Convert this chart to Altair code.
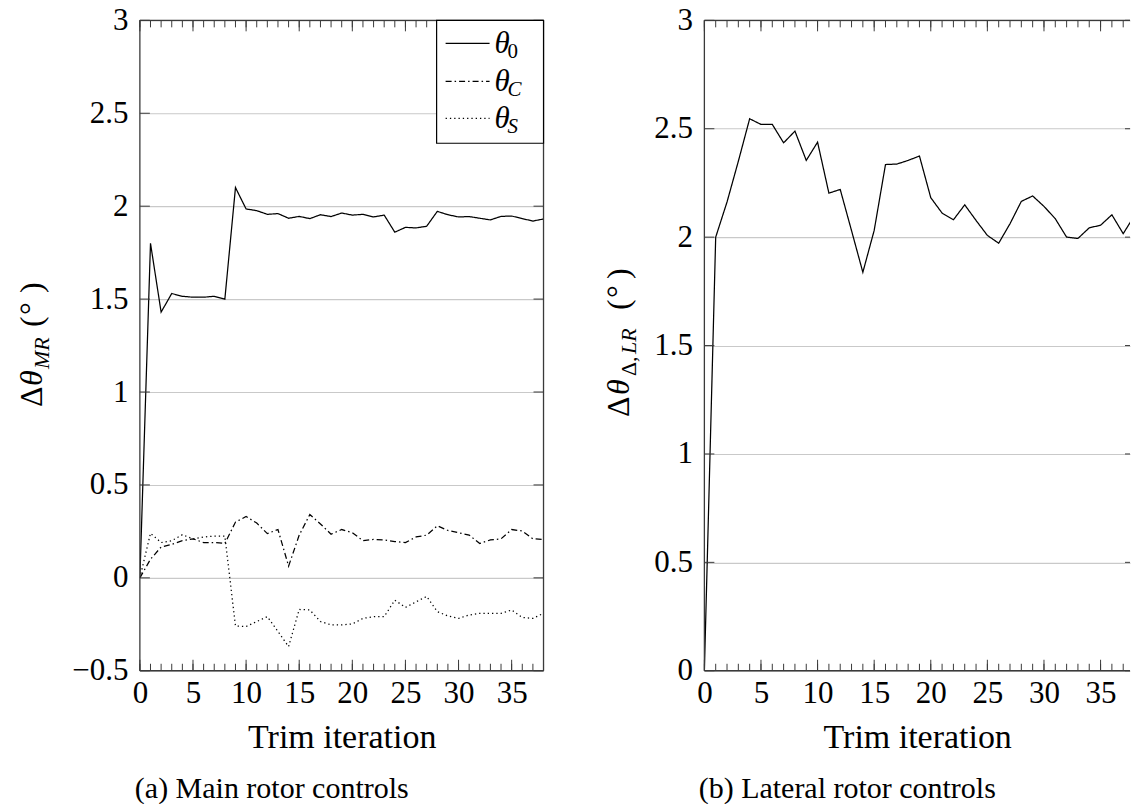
import altair as alt
import pandas as pd

# Trim iteration index
iterations = list(range(39))

# Main rotor control increments (deg)
theta_0 = [0.0, 1.80, 1.43, 1.53, 1.515, 1.51, 1.51, 1.515, 1.50, 2.10,
           1.985, 1.976, 1.956, 1.96, 1.935, 1.945, 1.933, 1.954, 1.944, 1.963,
           1.952, 1.956, 1.942, 1.952, 1.86, 1.886, 1.883, 1.892, 1.972, 1.954,
           1.942, 1.944, 1.935, 1.926, 1.945, 1.947, 1.933, 1.92, 1.931]
theta_c = [0.0, 0.10, 0.166, 0.18, 0.20, 0.21, 0.19, 0.19, 0.185, 0.30,
           0.33, 0.295, 0.238, 0.26, 0.063, 0.23, 0.341, 0.29, 0.235, 0.26,
           0.243, 0.20, 0.207, 0.204, 0.195, 0.19, 0.22, 0.23, 0.28, 0.255,
           0.243, 0.23, 0.185, 0.204, 0.21, 0.26, 0.252, 0.21, 0.207]
theta_s = [0.0, 0.24, 0.19, 0.20, 0.232, 0.21, 0.22, 0.225, 0.225, -0.259,
           -0.262, -0.235, -0.209, -0.289, -0.37, -0.17, -0.173, -0.235, -0.253, -0.253,
           -0.248, -0.218, -0.209, -0.209, -0.12, -0.159, -0.129, -0.10, -0.182, -0.205,
           -0.218, -0.20, -0.191, -0.191, -0.191, -0.173, -0.213, -0.218, -0.191]

# Lateral rotor differential collective increment (deg)
theta_lr = [0.0, 2.0, 2.162, 2.35, 2.546, 2.52, 2.52, 2.435, 2.489, 2.354,
            2.438, 2.203, 2.22, 2.03, 1.838, 2.031, 2.335, 2.337, 2.354, 2.374,
            2.182, 2.111, 2.08, 2.149, 2.077, 2.008, 1.972, 2.062, 2.165, 2.19,
            2.142, 2.085, 2.0, 1.994, 2.043, 2.055, 2.103, 2.016, 2.10]

x_labels = [0, 5, 10, 15, 20, 25, 30, 35]
y_labels_mr = [-0.5, 0, 0.5, 1, 1.5, 2, 2.5, 3]
y_labels_lr = [0, 0.5, 1, 1.5, 2, 2.5, 3]

FONT = "Liberation Serif"
INK = "#3a3a3a"
H = 651
W1, W2 = 404, 426
X1_MAX, X2_MAX = 38, 37.6


def x_axis():
    return alt.Axis(values=x_labels, title="Trim iteration", ticks=False, domain=False,
                    grid=False, labelFont=FONT, labelFontSize=31, labelColor="black",
                    labelPadding=8, labelFlush=False, titleFont=FONT, titleFontSize=34,
                    titleFontWeight="normal", titleColor="black", titlePadding=12)


def y_axis(vals):
    return alt.Axis(values=vals, format="~g", title=None, ticks=False, domain=False,
                    grid=True, gridColor="#c9c9c9", gridWidth=1.1,
                    labelFont=FONT, labelFontSize=31, labelColor="black",
                    labelPadding=12, labelFlush=False)


def xs(field, xmax):
    return alt.X(f"{field}:Q", scale=alt.Scale(domain=[0, xmax], nice=False, zero=False), axis=x_axis())


def ys(field, domain, vals):
    return alt.Y(f"{field}:Q", scale=alt.Scale(domain=domain, nice=False, zero=False), axis=y_axis(vals))


def one():
    return alt.Chart(pd.DataFrame({"k": [0]}))


def frame(width, sides):
    """Axis box drawn as rules (sides among l, r, t, b)."""
    spec = {
        "l": dict(x=alt.value(0), y=alt.value(0), y2=alt.value(H)),
        "r": dict(x=alt.value(width), y=alt.value(0), y2=alt.value(H)),
        "t": dict(x=alt.value(0), x2=alt.value(width), y=alt.value(0)),
        "b": dict(x=alt.value(0), x2=alt.value(width), y=alt.value(H)),
    }
    return [one().mark_rule(color=INK, strokeWidth=1.3).encode(**spec[s]) for s in sides]


def x_ticks(xmax):
    df = pd.DataFrame({"iteration": list(range(int(xmax) + 1))})
    df["major"] = df["iteration"] % 5 == 0
    base = alt.Chart(df)
    xenc = xs("iteration", xmax)
    rule = dict(color=INK, strokeWidth=1)
    return [
        base.mark_rule(**rule).encode(x=xenc, y=alt.value(H), y2=alt.value(H - 7)),
        base.mark_rule(**rule).encode(x=xenc, y=alt.value(0), y2=alt.value(7)),
        base.transform_filter("datum.major").mark_rule(**rule).encode(
            x=xenc, y=alt.value(H), y2=alt.value(H - 11)),
        base.transform_filter("datum.major").mark_rule(**rule).encode(
            x=xenc, y=alt.value(0), y2=alt.value(11)),
    ]


def y_ticks(field, vals, domain, spans):
    df = pd.DataFrame({field: vals})
    yenc = ys(field, domain, vals)
    base = alt.Chart(df).mark_rule(color=INK, strokeWidth=1)
    return [base.encode(y=yenc, x=alt.value(a), x2=alt.value(b)) for a, b in spans]


def rotated_title(pieces, x, y):
    """Rotated axis title built from pieces: (text, dx, dy, size, style)."""
    out = []
    for text, dx, dy, size, style in pieces:
        out.append(one().mark_text(
            text=text, angle=270, align="left", baseline="alphabetic",
            dx=dx, dy=dy, font=FONT, fontSize=size, fontStyle=style, color="black"
        ).encode(x=alt.value(x), y=alt.value(y)))
    return out


def series_line(df, field, xmax, domain, yvals, dash):
    return alt.Chart(df).mark_line(color="black", strokeWidth=1.25, clip=True, strokeDash=dash).encode(
        x=xs("iteration", xmax), y=ys(field, domain, yvals))


mr = pd.DataFrame({"iteration": iterations, "val": theta_0})
mc = pd.DataFrame({"iteration": iterations, "val": theta_c})
ms = pd.DataFrame({"iteration": iterations, "val": theta_s})
lr = pd.DataFrame({"iteration": iterations, "val": theta_lr})

dom_mr = [-0.5, 3]
dom_lr = [0, 3]

line_0 = series_line(mr, "val", X1_MAX, dom_mr, y_labels_mr, [1, 0])
line_c = series_line(mc, "val", X1_MAX, dom_mr, y_labels_mr, [6, 3, 1.5, 3])
line_s = series_line(ms, "val", X1_MAX, dom_mr, y_labels_mr, [1.3, 3])

# Legend box in the upper-right corner of the main rotor panel
legend_rows = [("0", 23, [1, 0]), ("C", 61, [6, 3, 1.5, 3]), ("S", 98, [1.3, 3])]
legend = [one().mark_rect(fill="white", stroke="black", strokeWidth=1.2).encode(
    x=alt.value(297), x2=alt.value(W1), y=alt.value(0), y2=alt.value(123))]
for sub, ry, dash in legend_rows:
    legend.append(one().mark_rule(color="black", strokeWidth=1.25, strokeDash=dash).encode(
        x=alt.value(306), x2=alt.value(350), y=alt.value(ry)))
    legend.append(one().mark_text(text="θ", align="left", baseline="alphabetic", font=FONT,
                                  fontSize=31, fontStyle="italic", color="black").encode(
        x=alt.value(355), y=alt.value(ry + 10)))
    legend.append(one().mark_text(text=sub, align="left", baseline="alphabetic", font=FONT,
                                  fontSize=21, fontStyle="normal" if sub == "0" else "italic",
                                  color="black").encode(
        x=alt.value(368), y=alt.value(ry + 15)))

title_mr = rotated_title([
    ("Δ", 0, 0, 32, "normal"),
    ("θ", 21, 0, 32, "italic"),
    ("MR", 38, 7, 22, "italic"),
    ("(", 80, 0, 32, "normal"),
    ("°", 92, 0, 32, "normal"),
    (")", 114, 0, 32, "normal"),
], -98, 387)

left = alt.layer(
    line_0, line_c, line_s,
    *x_ticks(X1_MAX), *y_ticks("val", y_labels_mr, dom_mr, [(0, 10), (W1 - 10, W1)]),
    *frame(W1, "lrtb"), *legend, *title_mr,
).properties(
    width=W1, height=H,
    title=alt.TitleParams("(a) Main rotor controls", orient="bottom", anchor="middle", frame="group",
                          dx=-70, offset=19, font=FONT, fontSize=30, fontWeight="normal", color="black"),
)

line_lr = series_line(lr, "val", X2_MAX, dom_lr, y_labels_lr, [1, 0])

title_lr = rotated_title([
    ("Δ", 0, 0, 32, "normal"),
    ("θ", 22, 0, 32, "italic"),
    ("Δ,", 41, 7, 22, "normal"),
    ("LR", 63, 7, 22, "italic"),
    ("(", 107, 0, 32, "normal"),
    ("°", 119, 0, 32, "normal"),
    (")", 138, 0, 32, "normal"),
], -75, 397)

right = alt.layer(
    line_lr,
    *x_ticks(X2_MAX), *y_ticks("val", y_labels_lr, dom_lr, [(0, 10), (W2 - 5, W2)]),
    *frame(W2, "ltb"), *title_lr,
).properties(
    width=W2, height=H,
    title=alt.TitleParams("(b) Lateral rotor controls", orient="bottom", anchor="middle", frame="group",
                          dx=-70, offset=19, font=FONT, fontSize=30, fontWeight="normal", color="black"),
)

chart = alt.hconcat(left, right, spacing=59).configure_view(stroke=None).properties(
    padding={"left": 16, "top": 4, "right": 0, "bottom": 0},
    background="white",
)

chart.save("out.html", embed_options={"renderer": "svg", "actions": False})
